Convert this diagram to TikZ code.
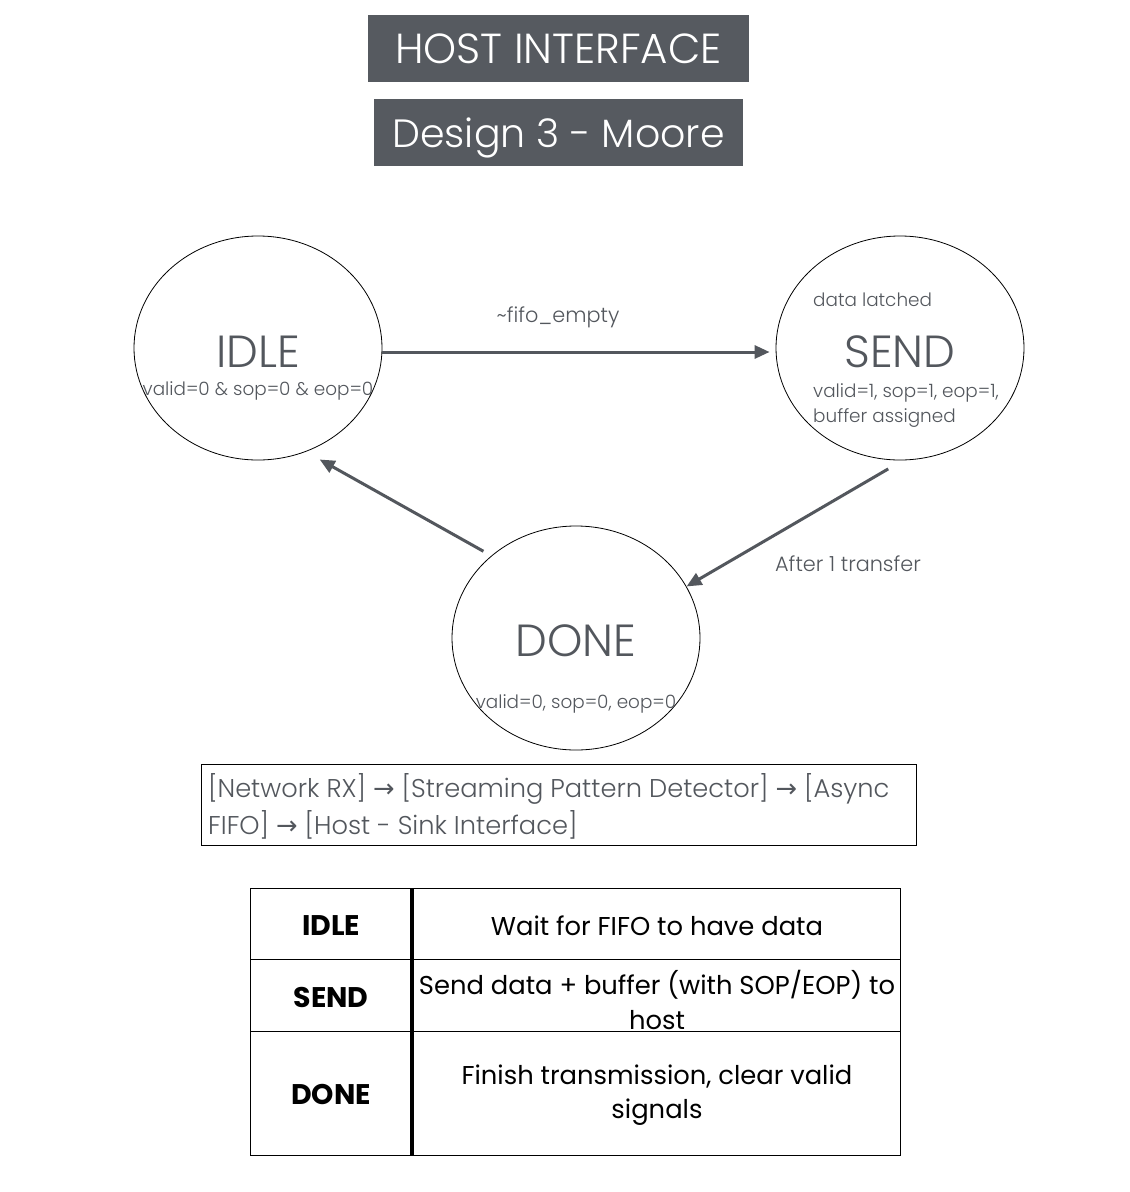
\documentclass[tikz,border=0pt]{standalone}
\usepackage{fontspec}
\usetikzlibrary{shapes.geometric,arrows.meta}
\setmainfont{Poppins}
\newfontfamily\plight{Poppins Light}
\newfontfamily\symfont{DejaVu Sans}
\definecolor{headgray}{RGB}{86,90,96}
\definecolor{inkgray}{RGB}{83,87,93}
\newcommand{\fs}[1]{\fontsize{#1}{1.2\dimexpr#1pt\relax}\selectfont}
\newcommand{\ra}{{\symfont →}}
\tikzset{
  head/.style={fill=headgray, text=white, inner sep=0pt, minimum height=67pt, font=\plight\fs{40}},
  state/.style={ellipse, draw=black, line width=0.8pt, minimum width=248pt, minimum height=224pt, inner sep=0pt},
  sname/.style={text=inkgray, inner sep=0pt, font=\plight\fs{45}},
  sout/.style={text=inkgray, inner sep=0pt, font=\plight\fs{18.4}},
  tlabel/.style={text=inkgray, inner sep=0pt, font=\plight\fs{20.8}},
  arr/.style={draw=inkgray, line width=3pt, -{Triangle[length=15pt,width=13pt]}},
  cellb/.style={inner sep=0pt, font=\bfseries\fs{28.4}},
  cellt/.style={inner sep=0pt, font=\fs{25.8}, align=center},
}
\begin{document}
\begin{tikzpicture}[x=1pt, y=-1pt]
\useasboundingbox (0,0) rectangle (1130,1192);
\fill[white] (0,0) rectangle (1130,1192);

% headings
\node[head, minimum width=381pt, font=\plight\fs{42}] (title) at (558.5,48.5) {HOST INTERFACE};
\node[head, minimum width=369pt, font=\plight\fs{39.5}, text depth=0pt] (subtitle) at (558.5,132.5) {Design 3 - Moore};

% states
\node[state] (idle) at (258,348) {};
\node[state] (send) at (900,348) {};
\node[state] (done) at (576,638) {};

\node[sname] (idlename) at (258,352) {IDLE};
\node[sout] (idleout) at (258,391) {valid=0 \& sop=0 \& eop=0};

\node[sout, anchor=west] (sendpre) at (813,300) {data latched};
\node[sname] (sendname) at (900,352) {SEND};
\node[sout, anchor=west] (sendout1) at (813,393) {valid=1, sop=1, eop=1,};
\node[sout, anchor=west] (sendout2) at (813,418) {buffer assigned};

\node[sname] (donename) at (576,641) {DONE};
\node[sout] (doneout) at (576,704) {valid=0, sop=0, eop=0};

% transitions
\draw[arr] ([yshift=-4pt]idle.east) -- ([xshift=-6pt,yshift=-4pt]send.west);
\node[tlabel] (lab1) at (558,317) {\textasciitilde fifo\_empty};
\draw[arr] ([yshift=-9pt]send.-96) -- (done.25);
\node[tlabel] (lab2) at (848,564) {After 1 transfer};
\draw[arr] ([xshift=-6pt,yshift=6pt]done.137) -- ([xshift=6pt,yshift=-11pt]idle.-61);

% data path
\draw[black, line width=1pt] (201,764) rectangle (916,845);
\node[text=inkgray, inner sep=0pt, anchor=west, font=\plight\fs{25.7}] (path1) at (208,789)
  {[Network RX] \ra{} [Streaming Pattern Detector] \ra{} [Async};
\node[text=inkgray, inner sep=0pt, anchor=west, font=\plight\fs{25.7}] (path2) at (208,825)
  {FIFO] \ra{} [Host - Sink Interface]};

% state table
\draw[black, line width=1pt] (250,888) rectangle (900,1155);
\draw[black, line width=1pt] (250,959) -- (900,959);
\draw[black, line width=1pt] (250,1031) -- (900,1031);
\draw[black, line width=3.5pt] (412,888) -- (412,1155);

\node[cellb] (t1) at (331,926) {IDLE};
\node[cellb] (t2) at (331,997) {SEND};
\node[cellb] (t3) at (331,1094) {DONE};
\node[cellt] (d1) at (657,926) {Wait for FIFO to have data};
\node[cellt] (d2a) at (657,985) {Send data + buffer (with SOP/EOP) to};
\node[cellt] (d2b) at (657,1020) {host};
\node[cellt] (d3a) at (657,1077) {Finish transmission, clear valid};
\node[cellt] (d3b) at (657,1112) {signals};
\end{tikzpicture}
\end{document}
